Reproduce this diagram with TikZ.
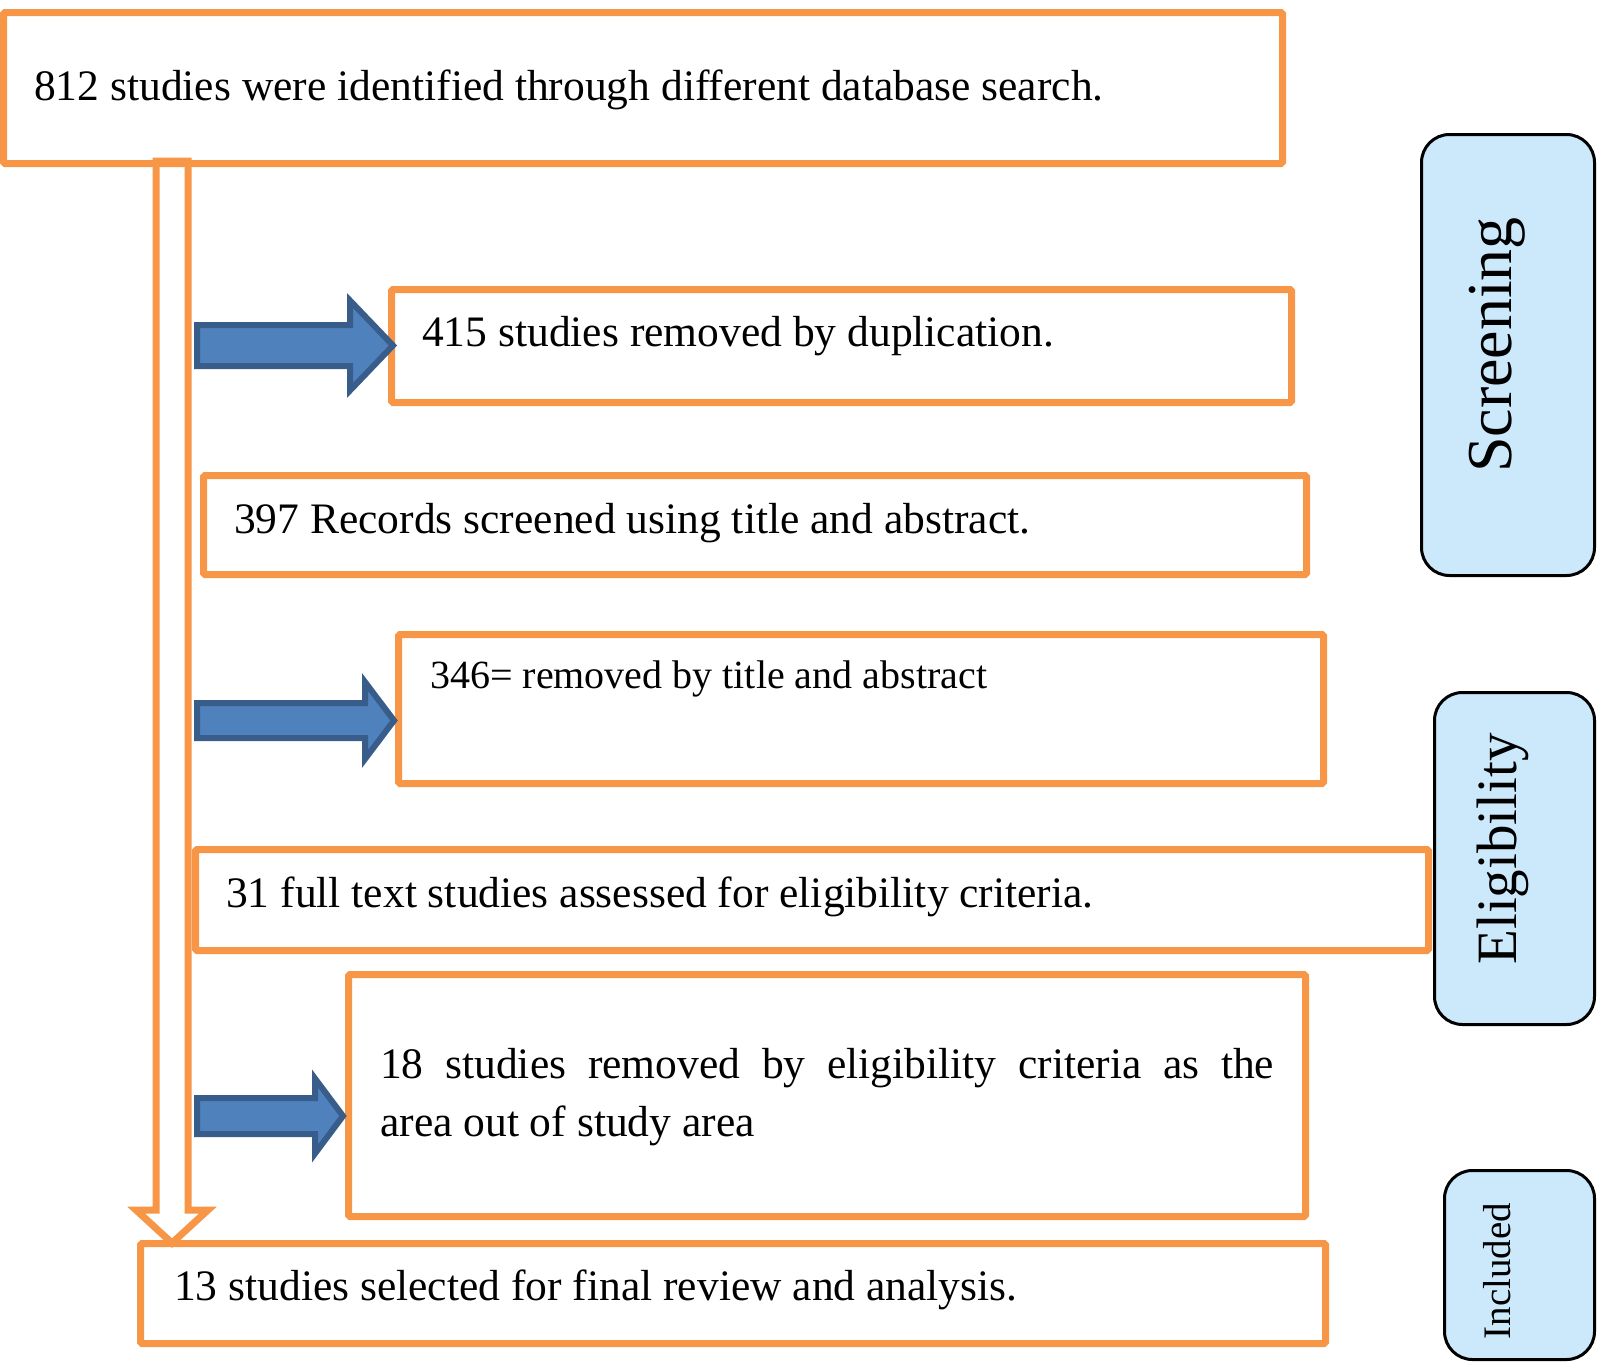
\documentclass[tikz,border=0pt]{standalone}
\usepackage{fontspec}
\setmainfont{Liberation Serif}
\definecolor{orng}{HTML}{F79646}
\definecolor{bfill}{HTML}{4F81BD}
\definecolor{bline}{HTML}{385D8A}
\definecolor{lblue}{HTML}{CCE9FB}
\newcommand\blarrow[6]{%
  \draw[barrow] (#1,#4-#5) -- (#2,#4-#5) -- (#2,#4-#6) -- (#3,#4) -- (#2,#4+#6) -- (#2,#4+#5) -- (#1,#4+#5) -- cycle;}
\begin{document}
\begin{tikzpicture}[x=1pt,y=-1pt,
  box/.style={draw=orng, line width=7pt, rounded corners=1.5pt, inner sep=0pt, outer sep=0pt, anchor=north west},
  side/.style={draw=black, line width=3pt, fill=lblue, rounded corners=28pt, inner sep=0pt, outer sep=0pt, anchor=north west},
  txt/.style={inner sep=0pt, anchor=base west, font=\fontsize{43.5}{52}\selectfont},
  barrow/.style={draw=bline, fill=bfill, line width=6pt, line join=miter},
  hollow/.style={draw=orng, fill=white, line width=7pt, line join=miter}]
\useasboundingbox (0,0) rectangle (1601,1365);
% hollow down arrow
\coordinate (h1) at (156,161);
\coordinate (h2) at (156,1210);
\coordinate (h3) at (136,1210);
\coordinate (h4) at (172,1243);
\coordinate (h5) at (208,1210);
\coordinate (h6) at (188,1210);
\coordinate (h7) at (188,161);
\draw[hollow] (h1) -- (h2) -- (h3) -- (h4) -- (h5) -- (h6) -- (h7) -- cycle;
% boxes
\node[box, minimum width=1279pt, minimum height=151pt] (b1) at (3.5,12.5) {};
\node[box, minimum width=900pt, minimum height=113pt] (b2) at (391.5,289.5) {};
\node[box, minimum width=1103pt, minimum height=99pt] (b3) at (203.5,475.5) {};
\node[box, minimum width=925pt, minimum height=149pt] (b4) at (398.5,634.5) {};
\node[box, minimum width=1233pt, minimum height=101pt] (b5) at (195.5,849.5) {};
\node[box, minimum width=957pt, minimum height=242pt] (b6) at (348.5,974.5) {};
\node[box, minimum width=1185pt, minimum height=100pt] (b7) at (140.5,1243.5) {};
% texts
\node[txt] (t1) at (34,100) {812 studies were identified through different database search.};
\node[txt] (t2) at (422,346) {415 studies removed by duplication.};
\node[txt] (t3) at (234,533) {397 Records screened using title and abstract.};
\node[txt, font=\fontsize{40}{47}\selectfont] (t4) at (430,688) {346= removed by title and abstract};
\node[txt] (t5) at (226,907) {31 full text studies assessed for eligibility criteria.};
\node[inner sep=0pt, anchor=north west, text width=894pt, align=justify, font=\fontsize{43.5}{58}\selectfont] (t6) at (380,1048)
  {18 studies removed by eligibility criteria as the\linebreak area out of study area};
\node[txt] (t7) at (174,1300) {13 studies selected for final review and analysis.};
% blue arrows
\blarrow{197}{350}{393}{345.5}{20.5}{45}
\blarrow{197}{365}{394}{720.5}{17.5}{38.5}
\blarrow{197}{315}{343}{1116}{18}{37.5}
% side labels
\node[side, minimum width=173pt, minimum height=441pt] (s1) at (1421.5,134.5) {};
\node[side, minimum width=160pt, minimum height=332pt] (s2) at (1434.5,692.5) {};
\node[side, minimum width=150pt, minimum height=189pt] (s3) at (1444.5,1170.5) {};
\node[rotate=90, inner sep=0pt, font=\fontsize{64}{70}\selectfont] (l1) at (1497,345) {Screening};
\node[rotate=90, inner sep=0pt, font=\fontsize{57}{64}\selectfont] (l2) at (1503,849) {Eligibility};
\node[rotate=90, inner sep=0pt, font=\fontsize{39}{46}\selectfont] (l3) at (1497,1271) {Included};
\end{tikzpicture}
\end{document}
